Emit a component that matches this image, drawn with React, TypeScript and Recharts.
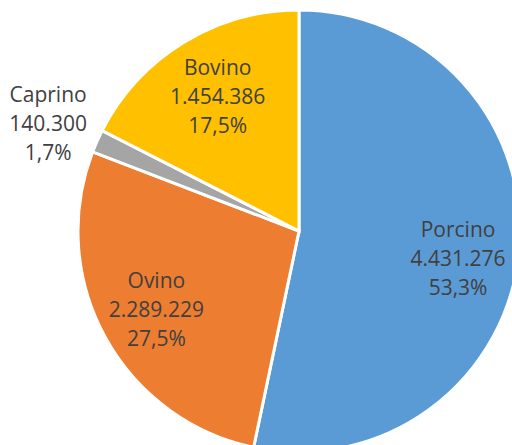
import { PieChart, Pie, Cell } from 'recharts';

const especies = ['Porcino', 'Ovino', 'Caprino', 'Bovino'];
const cabezas = [4431276, 2289229, 140300, 1454386];
const colores = ['#5B9BD5', '#ED7D31', '#A5A5A5', '#FFC000'];

// colocación de etiquetas: fracción del radio y ajuste de ángulo (grados)
const etiquetaRadio = [0.73, 0.735, 1.235, 0.715];
const etiquetaGiro = [-3.7, 0, 0.8, -0.5];

const data = especies.map((name, i) => ({ name, value: cabezas[i] }));
const total = cabezas.reduce((a, b) => a + b, 0);

const miles = (n: number): string => String(n).replace(/\B(?=(\d{3})+(?!\d))/g, '.');
const pct = (v: number): string => ((v / total) * 100).toFixed(1).replace('.', ',') + '%';

const RADIAN = Math.PI / 180;

const renderLabel = (props: any) => {
  const { cx, cy, midAngle, outerRadius, index } = props;
  const r = outerRadius * etiquetaRadio[index];
  const ang = (midAngle + etiquetaGiro[index]) * RADIAN;
  const x = cx + r * Math.cos(ang);
  const y = cy - r * Math.sin(ang);
  return (
    <text
      x={x}
      y={y}
      textAnchor="middle"
      dominantBaseline="central"
      fill="#404040"
      fontSize={21}
      fontFamily="'Open Sans', sans-serif"
    >
      <tspan x={x} y={y - 29}>{especies[index]}</tspan>
      <tspan x={x} y={y}>{miles(cabezas[index])}</tspan>
      <tspan x={x} y={y + 29}>{pct(cabezas[index])}</tspan>
    </text>
  );
};

export default function App(): JSX.Element {
  return (
    <div style={{ position: 'absolute', left: 0, top: 0, width: 512, height: 445, overflow: 'hidden', background: '#fff' }}>
      <PieChart width={512} height={445} margin={{ top: 0, right: 0, bottom: 0, left: 0 }}>
        <Pie
          data={data}
          dataKey="value"
          nameKey="name"
          cx={299}
          cy={231}
          outerRadius={221}
          startAngle={90}
          endAngle={-270}
          stroke="#ffffff"
          strokeWidth={3}
          labelLine={false}
          label={renderLabel}
          isAnimationActive={false}
        >
          {data.map((d, i) => (
            <Cell key={d.name} fill={colores[i]} />
          ))}
        </Pie>
      </PieChart>
    </div>
  );
}
